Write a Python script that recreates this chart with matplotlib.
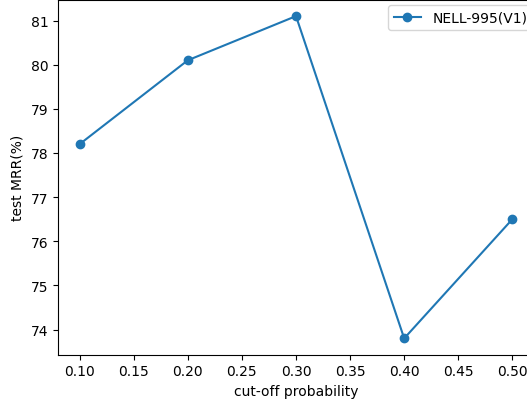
import matplotlib
matplotlib.use("Agg")
import matplotlib.pyplot as plt

cutoff = [0.1, 0.2, 0.3, 0.4, 0.5]
mrr = [78.2, 80.1, 81.1, 73.8, 76.5]

W, H = 527, 402
left_px, right_px, top_px, bottom_px = 58.0, 534.0, 1.0, 355.5
fig = plt.figure(figsize=(W / 100, H / 100), dpi=100)
ax = fig.add_axes([left_px / W, 1 - bottom_px / H,
                   (right_px - left_px) / W, (bottom_px - top_px) / H])
ax.plot(cutoff, mrr, marker='o', label='NELL-995(V1)')
ax.set_xlabel('cut-off probability')
ax.set_ylabel('test MRR(%)')
ax.legend(loc='upper left', bbox_to_anchor=(388 / W, 1 - 6 / H),
          bbox_transform=fig.transFigure, borderaxespad=0)
fig.savefig('out.png', dpi=100)
